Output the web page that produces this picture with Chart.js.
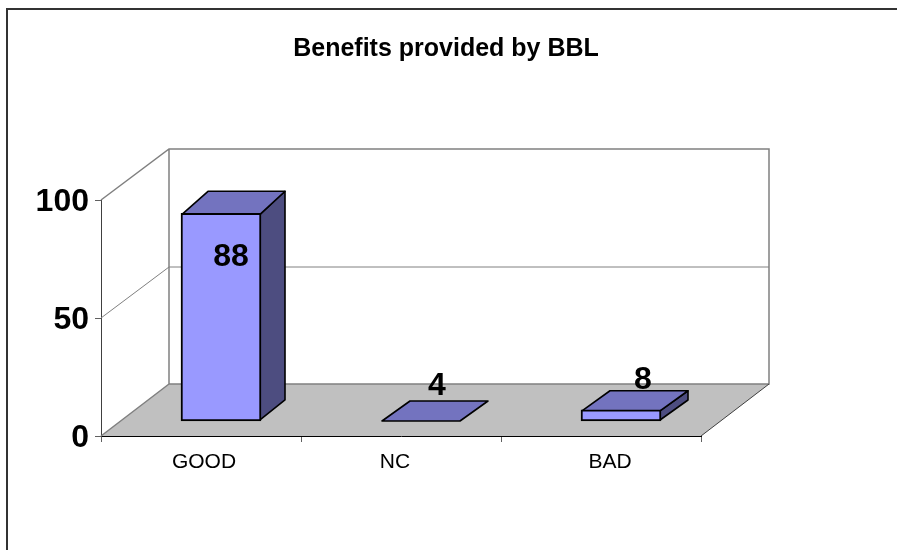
<!DOCTYPE html>
<html>
<head>
<meta charset="utf-8">
<style>html,body{margin:0;padding:0;background:#fff}canvas{display:block}</style>
<script src="https://cdn.jsdelivr.net/npm/chart.js@4"></script>
</head>
<body>
<canvas id="c" width="897" height="550"></canvas>
<script>
const titleText = "Benefits provided by BBL";
const categories = ["GOOD", "NC", "BAD"];
const plottedHeights = [88, 0, 4.7];
const valueLabels = ["88", "4", "8"];
const yTicks = [0, 50, 100];

const FONT = '"Liberation Sans", Arial, sans-serif';
const depth = { dx: 68, dyBase: 52, dyTop: 51 };
const barDepthX = [25, 28, 28];
const labelOffset = [[10, 44], [16, -35], [22, -30]];
const categoryShift = [3, -6, 9];

const scene = {
  id: 'scene',
  beforeDraw(chart) {
    const c = chart.ctx;
    c.save();
    c.fillStyle = '#fff';
    c.fillRect(0, 0, chart.width, chart.height);
    c.strokeStyle = '#333';
    c.lineWidth = 2;
    c.strokeRect(7, 9, 1200, 1200);
    c.restore();
  },
  beforeDatasetsDraw(chart) {
    const c = chart.ctx, { x, y } = chart.scales;
    const L = x.left, R = x.right, B = y.getPixelForValue(0), T = y.getPixelForValue(100), M = y.getPixelForValue(50);
    const bx = depth.dx, by = depth.dyBase, bt = depth.dyTop;
    c.save();
    c.fillStyle = '#c0c0c0';
    c.beginPath();
    c.moveTo(L, B); c.lineTo(L + bx, B - by); c.lineTo(R + bx, B - by); c.lineTo(R, B);
    c.closePath(); c.fill();
    c.strokeStyle = '#808080';
    c.lineWidth = 1.5;
    c.beginPath();
    c.moveTo(L, B); c.lineTo(L + bx, B - by);
    c.moveTo(L, T); c.lineTo(L + bx, T - bt); c.lineTo(R + bx, T - bt); c.lineTo(R + bx, B - by); c.lineTo(L + bx, B - by); c.lineTo(L + bx, T - bt);
    c.stroke();
    c.lineWidth = 1;
    c.beginPath();
    c.moveTo(L, M); c.lineTo(L + bx, M - bt); c.lineTo(R + bx, M - bt);
    c.stroke();
    c.strokeStyle = '#404040';
    c.beginPath();
    c.moveTo(R, B); c.lineTo(R + bx, B - by);
    c.stroke();
    const meta = chart.getDatasetMeta(0);
    meta.data.forEach((bar, i) => {
      const flat = bar.base - bar.y < 2;
      const hw = bar.width / 2, l = bar.x - hw + 1, r = bar.x + hw - 1;
      const t = flat ? bar.base : bar.y + 1, b = flat ? bar.base : bar.base - 1;
      const dx = barDepthX[i];
      const dyB = 20, dyT = 20 + (bar.base - bar.y) * 0.0146;
      c.lineJoin = 'round';
      c.lineWidth = 1.6;
      c.strokeStyle = '#000';
      c.fillStyle = '#4d4d80';
      if (!flat) {
        c.beginPath();
        c.moveTo(r, t); c.lineTo(r + dx, t - dyT); c.lineTo(r + dx, b - dyB); c.lineTo(r, b);
        c.closePath(); c.fill(); c.stroke();
      }
      c.fillStyle = '#7373bf';
      c.beginPath();
      c.moveTo(l, t); c.lineTo(l + dx + (i === 0 ? 1 : 0), t - dyT); c.lineTo(r + dx, t - dyT); c.lineTo(r, t);
      c.closePath(); c.fill(); c.stroke();
    });
    c.restore();
  },
  afterDatasetsDraw(chart) {
    const c = chart.ctx, meta = chart.getDatasetMeta(0), x = chart.scales.x;
    c.save();
    c.fillStyle = '#000';
    c.textAlign = 'center';
    c.textBaseline = 'middle';
    c.font = 'bold 32px ' + FONT;
    meta.data.forEach((bar, i) => {
      c.fillText(valueLabels[i], bar.x + labelOffset[i][0], bar.y + labelOffset[i][1]);
    });
    c.font = '21px ' + FONT;
    categories.forEach((label, i) => {
      c.fillText(label, x.getPixelForValue(i) + categoryShift[i], chart.chartArea.bottom + 26);
    });
    c.restore();
  }
};

new Chart(document.getElementById('c'), {
  type: 'bar',
  data: {
    labels: categories,
    datasets: [{
      data: plottedHeights.map((v, i) => ({ x: i, y: v })),
      xAxisID: 'xBar',
      yAxisID: 'yBar',
      backgroundColor: '#9999ff',
      borderColor: '#000',
      borderWidth: 2,
      borderSkipped: false,
      barPercentage: 1,
      categoryPercentage: 1
    }]
  },
  plugins: [scene],
  options: {
    responsive: false,
    animation: false,
    events: [],
    layout: { padding: { left: 0, right: 5, top: 0, bottom: 0 } },
    plugins: {
      legend: { display: false },
      tooltip: { enabled: false },
      title: {
        display: true,
        text: titleText,
        color: '#000',
        font: { family: FONT, size: 25, weight: 'bold', lineHeight: 1.2 },
        padding: { top: 34, bottom: 136 }
      }
    },
    scales: {
      x: {
        type: 'category',
        position: 'bottom',
        offset: true,
        labels: categories,
        grid: { display: true, offset: true, drawOnChartArea: false, drawTicks: true, tickLength: 6, color: '#606060' },
        border: { color: '#000', width: 1 },
        ticks: { display: false },
        afterFit(s) { s.height = 114; }
      },
      y: {
        type: 'linear',
        position: 'left',
        min: 0, max: 100,
        afterBuildTicks(s) { s.ticks = yTicks.map(v => ({ value: v })); },
        grid: { display: true, drawOnChartArea: false, drawTicks: true, tickLength: 6, color: '#606060' },
        border: { color: '#404040', width: 1 },
        ticks: { color: '#000', font: { family: FONT, size: 32, weight: 'bold' }, padding: 6, labelOffset: 2 },
        afterFit(s) { s.width = 101; }
      },
      xBar: { type: 'linear', display: false, min: -0.6, max: 2.4, offset: false },
      yBar: {
        type: 'linear',
        position: 'right',
        min: -6.36, max: 93.64,
        ticks: { display: false },
        grid: { display: false },
        border: { display: false },
        afterFit(s) { s.width = 191; }
      }
    }
  }
});
</script>
</body>
</html>
